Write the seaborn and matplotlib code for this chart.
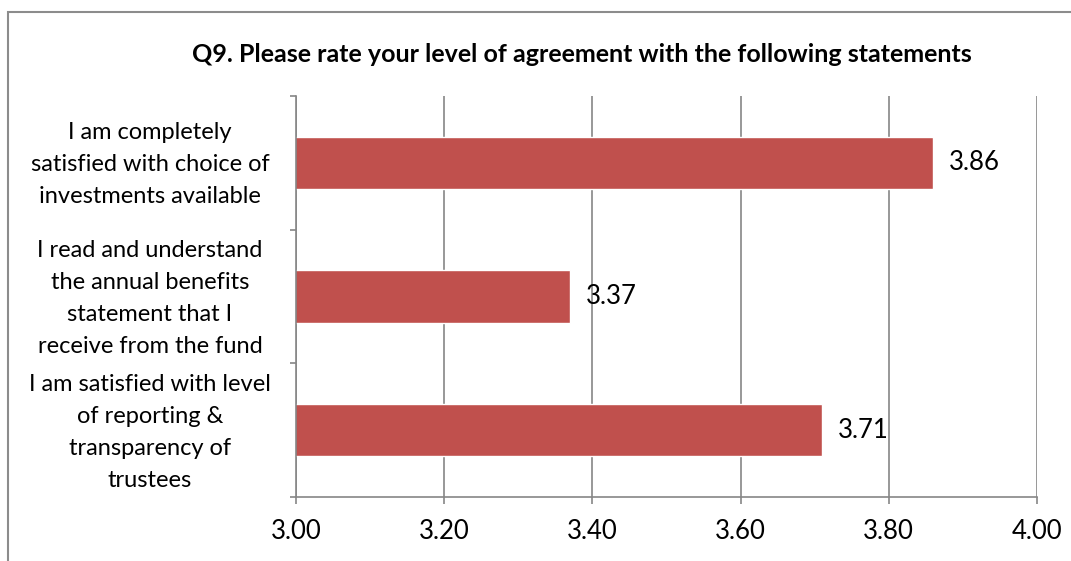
import matplotlib
matplotlib.use("Agg")
import matplotlib.pyplot as plt
import matplotlib.transforms as mtransforms
from matplotlib.patches import Rectangle
from matplotlib.ticker import FixedLocator
import seaborn as sns
import pandas as pd

# Survey results: mean agreement score per statement
categories = [
    "I am completely\nsatisfied with choice of\ninvestments available",
    "I read and understand\nthe annual benefits\nstatement that I\nreceive from the fund",
    "I am satisfied with level\nof reporting &\ntransparency of\ntrustees",
]
values = [3.86, 3.37, 3.71]
x_ticks = [3.00, 3.20, 3.40, 3.60, 3.80, 4.00]
title = "Q9. Please rate your level of agreement with the following statements"

BAR = "#C0504D"
GRID = "#868686"
FONT = ["Lato", "DejaVu Sans"]

sns.set_theme(style="white")
plt.rcParams["font.family"] = FONT

W, H = 1071, 561
fig = plt.figure(figsize=(W / 100, H / 100), dpi=100)
ax = fig.add_axes([296 / W, 1 - 497 / H, (1037 - 296) / W, (497 - 96) / H])

df = pd.DataFrame({"statement": categories, "score": values})
sns.barplot(data=df, x="score", y="statement", orient="h", color=BAR,
            saturation=1, width=0.39, ax=ax, zorder=3)

ax.set_xlim(3.0, 4.0)
ax.set_ylim(2.5, -0.5)
ax.set_xlabel("")
ax.set_ylabel("")

# x axis: value ticks with gridlines
ax.set_xticks(x_ticks)
ax.set_xticklabels([f"{t:.2f}" for t in x_ticks], fontsize=18.5, color="black")
ax.tick_params(axis="x", which="major", direction="out", length=5, width=1.2,
               color=GRID, pad=11, bottom=True)
ax.grid(axis="x", color=GRID, linewidth=1.2, zorder=0)
ax.grid(axis="y", visible=False)

# y axis: boundary ticks between categories; category text centred in each band
ax.yaxis.set_minor_locator(FixedLocator([-0.5, 0.5, 1.5, 2.5]))
ax.tick_params(axis="y", which="minor", direction="out", length=4.5, width=1.2,
               color=GRID, left=True)
ax.tick_params(axis="y", which="major", length=0, labelleft=False)

label_tf = mtransforms.blended_transform_factory(ax.transAxes, ax.transData) + \
    mtransforms.ScaledTranslation(0, -2 / 100, fig.dpi_scale_trans)
for pos, text in enumerate(df["statement"]):
    ax.text(-146 / 741, pos, text, transform=label_tf, ha="center", va="center",
            multialignment="center", fontsize=17, color="black",
            linespacing=1.65, clip_on=False)

for side in ("top", "right"):
    ax.spines[side].set_visible(False)
for side in ("left", "bottom"):
    ax.spines[side].set_color(GRID)
    ax.spines[side].set_linewidth(1.2)
    ax.spines[side].set_zorder(4)

ax.bar_label(ax.containers[0], fmt="%.2f", padding=11, fontsize=18.5,
             color="black")

fig.text(582 / W, 1 - 55 / H, title, ha="center", va="center",
         fontsize=18, fontweight="bold", color="black")

# chart frame (left and top edges fall inside the canvas)
fig.add_artist(Rectangle((8 / W, -1), 2, 1 + (1 - 12 / H), transform=fig.transFigure,
                         fill=False, edgecolor="#8C8C8C", linewidth=1.5))

fig.savefig("out.png", dpi=100)
